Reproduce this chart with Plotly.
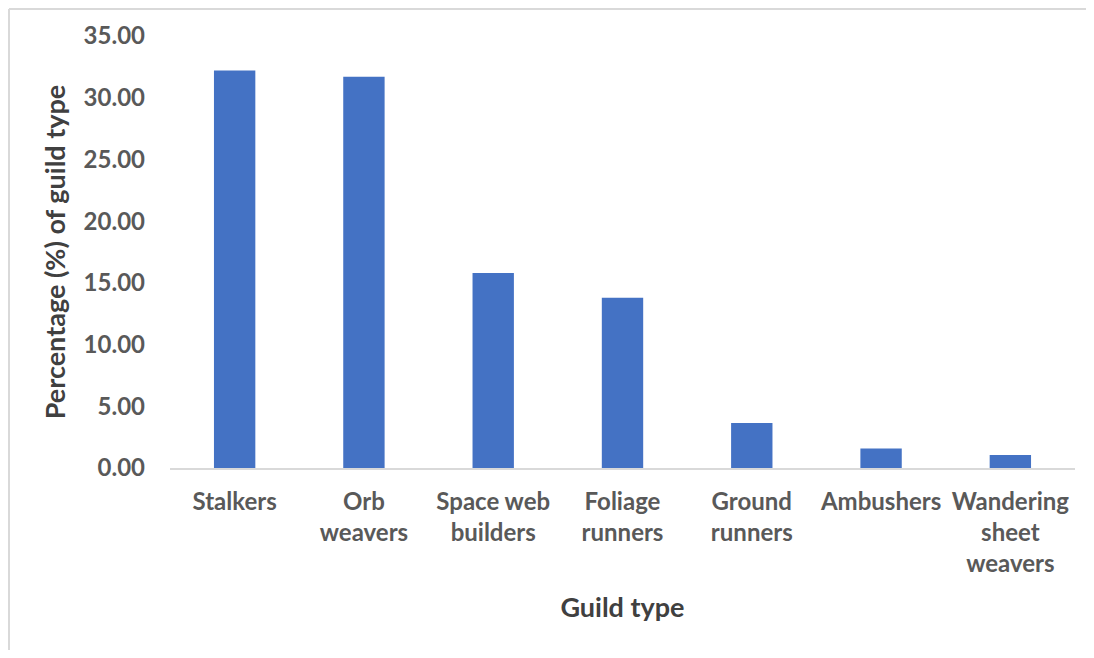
import plotly.graph_objects as go

categories = ["Stalkers", "Orb<br>weavers", "Space web<br>builders", "Foliage<br>runners",
              "Ground<br>runners", "Ambushers", "Wandering<br>sheet<br>weavers"]
values = [32.2, 31.7, 15.8, 13.8, 3.65, 1.57, 1.05]
y_ticks = [0, 5, 10, 15, 20, 25, 30, 35]

OFF = 8  # page body margin
W, H = 1094 - 2 * OFF, 658 - 2 * OFF
L, T = 170 - OFF, 36 - OFF
pw, ph = 905, 432
R, B = W - L - pw, H - T - ph

fig = go.Figure(go.Bar(x=categories, y=values, marker_color="#4472C4",
                       marker_line_width=0, width=0.32))

font_family = "Lato, 'Open Sans', sans-serif"

fig.update_layout(
    width=W, height=H,
    margin=dict(l=L, r=R, t=T, b=B),
    paper_bgcolor="white", plot_bgcolor="white",
    showlegend=False,
    font=dict(family=font_family, size=24, color="#595959"),
    xaxis=dict(
        showline=True, linecolor="#D9D9D9", linewidth=1.5,
        showgrid=False, ticks="", ticklabelstandoff=11,
        tickfont=dict(size=24, color="#595959", family=font_family, weight="bold"),
        title=dict(text="<b>Guild type</b>", font=dict(size=27, color="#404040"), standoff=22),
        tickangle=0,
    ),
    yaxis=dict(
        range=[0, 35], tickvals=y_ticks,
        ticktext=[f"{v:.2f}" for v in y_ticks],
        showline=False, showgrid=False, zeroline=False, ticks="",
        ticklabelstandoff=24,
        tickfont=dict(size=24, color="#595959", family=font_family, weight="bold"),
        title=dict(text="<b>Percentage (%) of guild type</b>", font=dict(size=27, color="#404040"), standoff=10),
    ),
)

# chart border (top and left edges visible in the cropped reference)
def px_x(p):
    return (p - L) / pw

def px_y(p):
    return (T + ph - p) / ph

border = dict(color="#D9D9D9", width=2)
fig.add_shape(type="line", xref="paper", yref="paper",
              x0=px_x(1), x1=px_x(W), y0=px_y(1), y1=px_y(1), line=border)
fig.add_shape(type="line", xref="paper", yref="paper",
              x0=px_x(1), x1=px_x(1), y0=px_y(1), y1=px_y(H), line=border)

fig.write_html("out.html")
